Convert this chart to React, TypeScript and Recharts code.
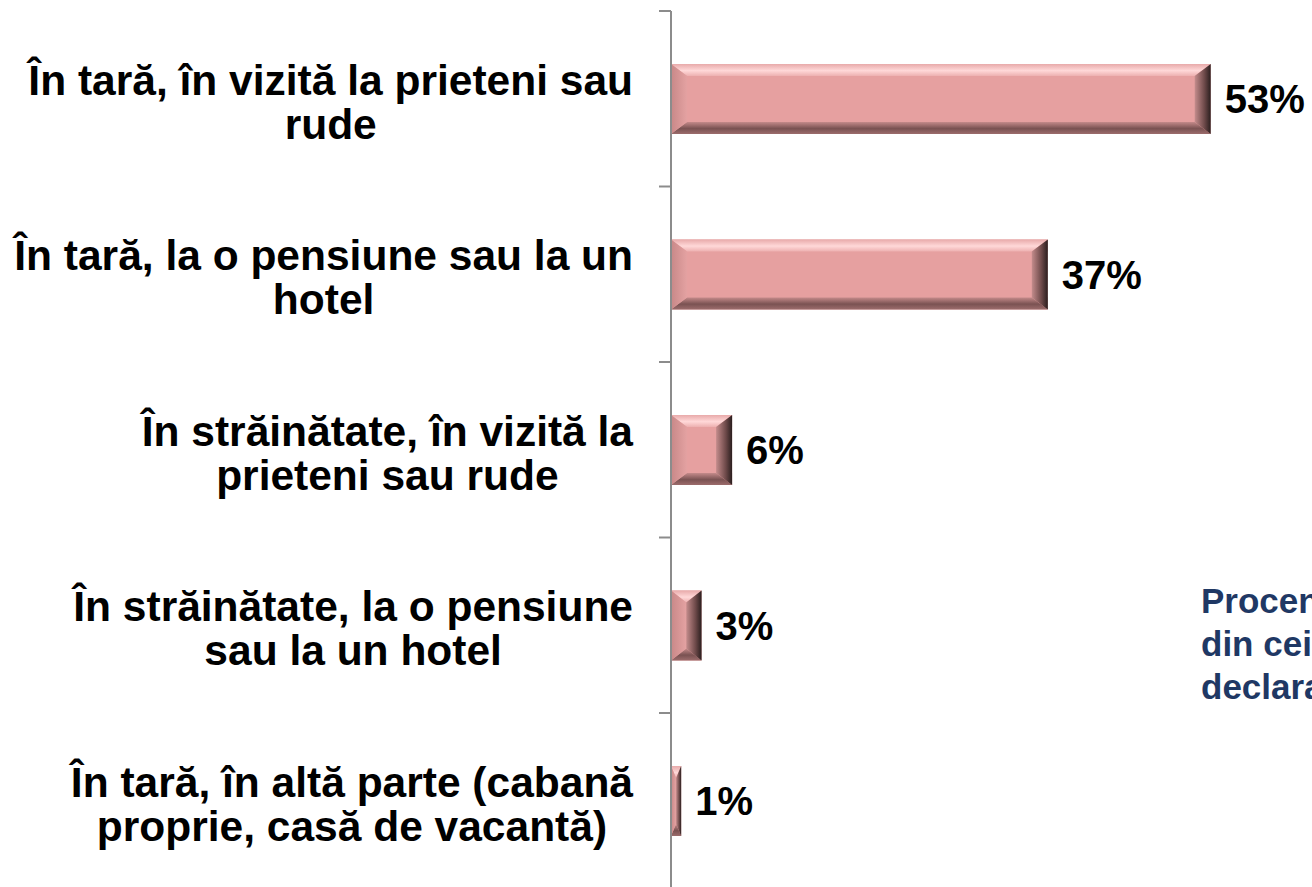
import { BarChart, Bar, XAxis, YAxis, LabelList } from 'recharts';

const categories = [
  'În tară, în vizită la prieteni sau rude',
  'În tară, la o pensiune sau la un hotel',
  'În străinătate, în vizită la prieteni sau rude',
  'În străinătate, la o pensiune sau la un hotel',
  'În tară, în altă parte (cabană proprie, casă de vacantă)'
];
const categoryLines = [
  ['În tară, în vizită la prieteni sau', 'rude'],
  ['În tară, la o pensiune sau la un', 'hotel'],
  ['În străinătate, în vizită la', 'prieteni sau rude'],
  ['În străinătate, la o pensiune', 'sau la un hotel'],
  ['În tară, în altă parte (cabană', 'proprie, casă de vacantă)']
];
const values = [53, 37, 6, 3, 1];
const noteLines = ['Procentul', 'din cei care', 'declarat'];

const data = categories.map((name, i) => ({ name, value: values[i] }));

const WIDTH = 1312;
const HEIGHT = 900;
const MARGIN = { top: 11, right: 30, bottom: 11.5, left: 0 };
const AXIS_W = 671;
const BAND = (HEIGHT - MARGIN.top - MARGIN.bottom) / categories.length;
const FONT = '"Liberation Sans", Arial, sans-serif';
const LABEL_SIZE = 42.5;

let ctx: CanvasRenderingContext2D | null = null;
const measure = (s: string) => {
  if (!ctx) ctx = document.createElement('canvas').getContext('2d');
  if (!ctx) return s.length * LABEL_SIZE * 0.55;
  ctx.font = `bold ${LABEL_SIZE}px "Liberation Sans"`;
  return ctx.measureText(s).width;
};

const CategoryTick = ({ x, y, payload }: any) => {
  const idx = categories.indexOf(payload.value);
  const lines = categoryLines[idx] || [payload.value];
  const w = Math.max(...lines.map(measure));
  const cx = x - 38 - w / 2;
  const top = y - BAND / 2;
  return (
    <g>
      <line x1={x - 12} x2={x} y1={top} y2={top} stroke="#8c8c8c" strokeWidth={2} />
      {lines.map((l: string, i: number) => (
        <text
          key={i}
          x={cx}
          y={y - 4 + i * 44}
          textAnchor="middle"
          fontFamily={FONT}
          fontWeight="bold"
          fontSize={LABEL_SIZE}
          fill="#000"
        >
          {l}
        </text>
      ))}
    </g>
  );
};

const BevelBar = (props: any) => {
  const { x, y, width, height } = props;
  if (!width || width <= 0) return null;
  const bx = Math.min(16, width / 2);
  const by = Math.min(12, height / 2);
  const r = x + width;
  const b = y + height;
  return (
    <g>
      <rect x={x} y={y} width={width} height={height} fill="#E6A0A0" />
      <polygon points={`${x},${y} ${r},${y} ${r - bx},${y + by} ${x + bx},${y + by}`} fill="url(#bevelTop)" />
      <polygon points={`${x},${b} ${r},${b} ${r - bx},${b - by} ${x + bx},${b - by}`} fill="url(#bevelBottom)" />
      <polygon points={`${x},${y} ${x + bx},${y + by} ${x + bx},${b - by} ${x},${b}`} fill="url(#bevelLeft)" />
      <polygon points={`${r},${y} ${r - bx},${y + by} ${r - bx},${b - by} ${r},${b}`} fill="url(#bevelRight)" />
    </g>
  );
};

const App = () => {
  return (
    <div style={{ position: 'fixed', left: 0, top: 0, width: WIDTH, height: 887, overflow: 'hidden', background: '#fff' }}>
      <svg width={0} height={0} style={{ position: 'absolute' }}>
        <defs>
          <linearGradient id="bevelTop" x1="0" y1="0" x2="0" y2="1">
            <stop offset="0%" stopColor="#E8AAAA" />
            <stop offset="55%" stopColor="#FFD8D8" />
            <stop offset="100%" stopColor="#EDB0B0" />
          </linearGradient>
          <linearGradient id="bevelBottom" x1="0" y1="1" x2="0" y2="0">
            <stop offset="0%" stopColor="#9C6C6C" />
            <stop offset="45%" stopColor="#7A5252" />
            <stop offset="100%" stopColor="#C48A8A" />
          </linearGradient>
          <linearGradient id="bevelLeft" x1="0" y1="0" x2="1" y2="0">
            <stop offset="0%" stopColor="#C88888" />
            <stop offset="100%" stopColor="#E4A2A2" />
          </linearGradient>
          <linearGradient id="bevelRight" x1="1" y1="0" x2="0" y2="0">
            <stop offset="0%" stopColor="#2A1E1E" />
            <stop offset="40%" stopColor="#6E4A4A" />
            <stop offset="100%" stopColor="#C48C8C" />
          </linearGradient>
        </defs>
      </svg>
      <BarChart width={WIDTH} height={HEIGHT} data={data} layout="vertical" margin={MARGIN}>
        <XAxis type="number" domain={[0, 60]} hide />
        <YAxis
          type="category"
          dataKey="name"
          width={AXIS_W}
          tick={<CategoryTick />}
          tickLine={false}
          tickSize={0}
          tickMargin={0}
          axisLine={{ stroke: '#8c8c8c', strokeWidth: 2 }}
          interval={0}
        />
        <Bar dataKey="value" barSize={70} shape={<BevelBar />} isAnimationActive={false}>
          <LabelList
            dataKey="value"
            position="right"
            offset={14}
            formatter={(v: any) => `${v}%`}
            fill="#000"
            fontSize={40}
            fontWeight="bold"
            fontFamily={FONT}
          />
        </Bar>
      </BarChart>
      <div
        style={{
          position: 'absolute',
          left: 1201,
          top: 579,
          fontFamily: FONT,
          fontWeight: 'bold',
          fontSize: 35,
          lineHeight: '43px',
          color: '#1F3864',
          whiteSpace: 'nowrap'
        }}
      >
        {noteLines.map((l, i) => (
          <div key={i}>{l}</div>
        ))}
      </div>
    </div>
  );
};

export default App;
